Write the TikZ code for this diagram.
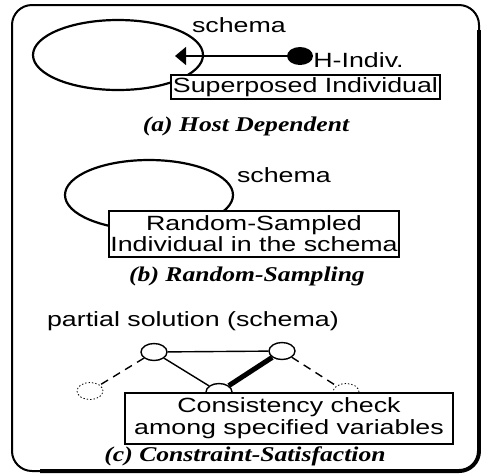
\documentclass[tikz,border=0pt]{standalone}
\usepackage{fontspec}
\usepackage{tikz}
\usetikzlibrary{shapes.geometric,arrows.meta}
\newfontfamily\lblfont[FakeStretch=1.3]{Liberation Sans}
\newfontfamily\capfont[FakeStretch=1.22]{Liberation Serif}

\begin{document}
\begin{tikzpicture}%
  [x=0.5pt,y=-0.5pt,font=\lblfont\fontsize{10.3}{10.5}\selectfont]
  \tikzstyle{label box}=[rectangle,draw,fill=white,line width=0.9pt,inner sep=0.5pt]
  \tikzstyle{schema ell}=[ellipse,draw,line width=1.1pt,inner sep=0]
  \tikzstyle{var node}=[ellipse,draw,line width=0.7pt,minimum width=13pt,minimum height=8.5pt,inner sep=0]
  \tikzstyle{free node}=[var node,densely dotted,line width=0.4pt]
  \tikzstyle{caption}=[font=\capfont\bfseries\itshape\fontsize{10.5}{12}\selectfont,inner sep=1pt]
  \useasboundingbox (0,0) rectangle (481,473);
  % outer frame, heavier on the lower right
  \draw[line width=1pt,rounded corners=10pt] (12,5) rectangle (479,471);
  \draw[line width=2pt,rounded corners=10pt] (479,30) -- (479,471) -- (40,471);
  % (a)
  \node[schema ell,minimum width=85pt,minimum height=35pt] (schA) at (118,55) {};
  \node[anchor=base west] (schAlbl) at (185,32) {schema};
  \node[ellipse,fill,minimum width=13pt,minimum height=9pt,inner sep=0] (hdot) at (300,56) {};
  \coordinate (hostA) at (175,56);
  \draw[line width=0.7pt,-{Triangle[length=5.5pt,width=9pt]}] (hdot) -- (hostA);
  \node[anchor=base west,inner sep=0] (hind) at (313,67) {H-Indiv.};
  \node[label box,minimum width=134.5pt,minimum height=12pt] (supA) at (305.5,87) {Superposed Individual};
  \node[caption] (capA) at (246,126) {(a) Host Dependent};
  % (b)
  \node[schema ell,minimum width=84pt,minimum height=35pt] (schB) at (149,195) {};
  \node[anchor=base west] (schBlbl) at (230,182) {schema};
  \node[label box,align=center,minimum width=143pt,minimum height=23pt] (randB) at (254,234)
    {Random-Sampled\\Individual in the schema};
  \node[caption] (capB) at (247,276) {(b) Random-Sampling};
  % (c)
  \node[anchor=base west] (partC) at (40,326) {partial solution (schema)};
  \node[var node] (v1) at (154,352) {};
  \node[var node] (v2) at (282,351) {};
  \node[var node] (v3) at (219,392) {};
  \node[free node] (v0) at (90,391) {};
  \node[free node] (v4) at (346,392) {};
  \draw[line width=0.7pt] (v1) -- (v2) (v1) -- (v3);
  \draw[line width=2.5pt] (v2) -- (v3);
  \draw[line width=0.7pt,dash pattern=on 4pt off 3pt] (v1) -- (v0) (v2) -- (v4);
  \node[label box,align=center,minimum width=164pt,minimum height=25.5pt,
    font=\lblfont\fontsize{10.3}{11}\selectfont] (consC) at (289,418.5)
    {Consistency check\\among specified variables};
  \node[caption] (capC) at (245,456) {(c) Constraint-Satisfaction};
\end{tikzpicture}
\end{document}
